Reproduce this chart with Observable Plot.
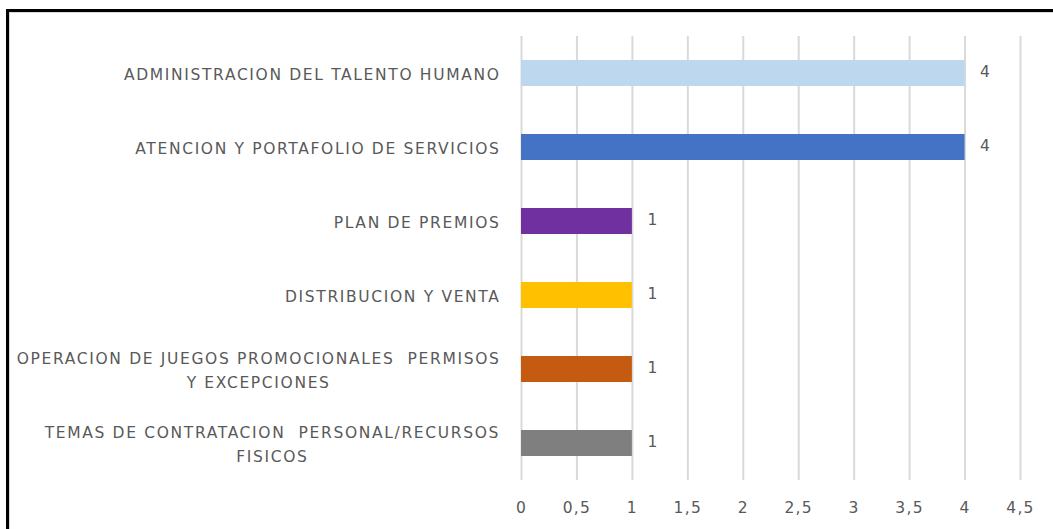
<!DOCTYPE html>
<html>
<head>
<meta charset="utf-8">
<script src="https://cdn.jsdelivr.net/npm/d3@7"></script>
<script src="https://cdn.jsdelivr.net/npm/@observablehq/plot@0.6"></script>
<style>
  html, body { margin: 0; padding: 0; background: #fff; overflow: hidden; }
  #wrap { position: relative; width: 1053px; height: 529px; }
  #frame { position: absolute; left: 6px; top: 9px; width: 1200px; height: 700px;
           border-left: 3px solid #000; border-top: 3px solid #000; box-shadow: inset 1px 1px 0 #d9d9d9; }
  #chart { position: absolute; left: 0; top: 0; }
  svg text { font-family: "DejaVu Sans", sans-serif; letter-spacing: 1.3px; }
  svg g.catlabel text { letter-spacing: 1.65px; }
</style>
</head>
<body>
<div id="wrap"><div id="frame"></div><div id="chart"></div></div>
<script>
const categories = [
  "ADMINISTRACION DEL TALENTO HUMANO",
  "ATENCION Y PORTAFOLIO DE SERVICIOS",
  "PLAN DE PREMIOS",
  "DISTRIBUCION Y VENTA",
  "OPERACION DE JUEGOS PROMOCIONALES  PERMISOS\nY EXCEPCIONES",
  "TEMAS DE CONTRATACION  PERSONAL/RECURSOS\nFISICOS"
];
const values = [4, 4, 1, 1, 1, 1];
const colors = ["#BDD7EE", "#4472C4", "#7030A0", "#FFC000", "#C55A11", "#7F7F7F"];
const xTicks = [0, 0.5, 1, 1.5, 2, 2.5, 3, 3.5, 4, 4.5];

const data = categories.map((c, i) => ({cat: c, value: values[i], color: colors[i]}));
const fmt = d => String(d).replace(".", ",");

const chart = Plot.plot({
  width: 1053,
  height: 529,
  marginLeft: 521,
  marginRight: 33,
  marginTop: 36,
  marginBottom: 49,
  style: {fontSize: "15px", color: "#595959", background: "transparent"},
  x: {domain: [0, 4.5], ticks: xTicks, tickFormat: fmt},
  y: {domain: categories, paddingInner: 0.65, paddingOuter: 0.325, axis: null},
  marks: [
    Plot.gridX(xTicks, {stroke: "#d9d9d9", strokeOpacity: 1, strokeWidth: 2}),
    Plot.barX(data, {x: "value", y: "cat", fill: "color"}),
    Plot.text(data, {x: "value", y: "cat", text: d => String(d.value), dx: 15, dy: -1, textAnchor: "start", fill: "#595959", fontSize: 15.5}),
    Plot.text(data, {x: 0, y: "cat", text: "cat", dx: -21, dy: -1.5, textAnchor: "end", fill: "#595959", fontSize: 15.5, lineHeight: 1.55, className: "catlabel"}),
    Plot.axisX({ticks: xTicks, tickSize: 0, tickPadding: 21, fontSize: 15.5, tickFormat: fmt, label: null, fill: "#595959"})
  ]
});
document.getElementById("chart").appendChild(chart);

// right-aligned block, with the wrapped lines centered inside it
chart.querySelectorAll("g.catlabel text").forEach(t => {
  const spans = t.querySelectorAll("tspan");
  if (spans.length > 1) {
    const w = t.getBBox().width;
    t.setAttribute("text-anchor", "middle");
    const cur = t.getAttribute("transform") || "";
    t.setAttribute("transform", cur + ` translate(${-w / 2},0)`);
  }
});
</script>
</body>
</html>
